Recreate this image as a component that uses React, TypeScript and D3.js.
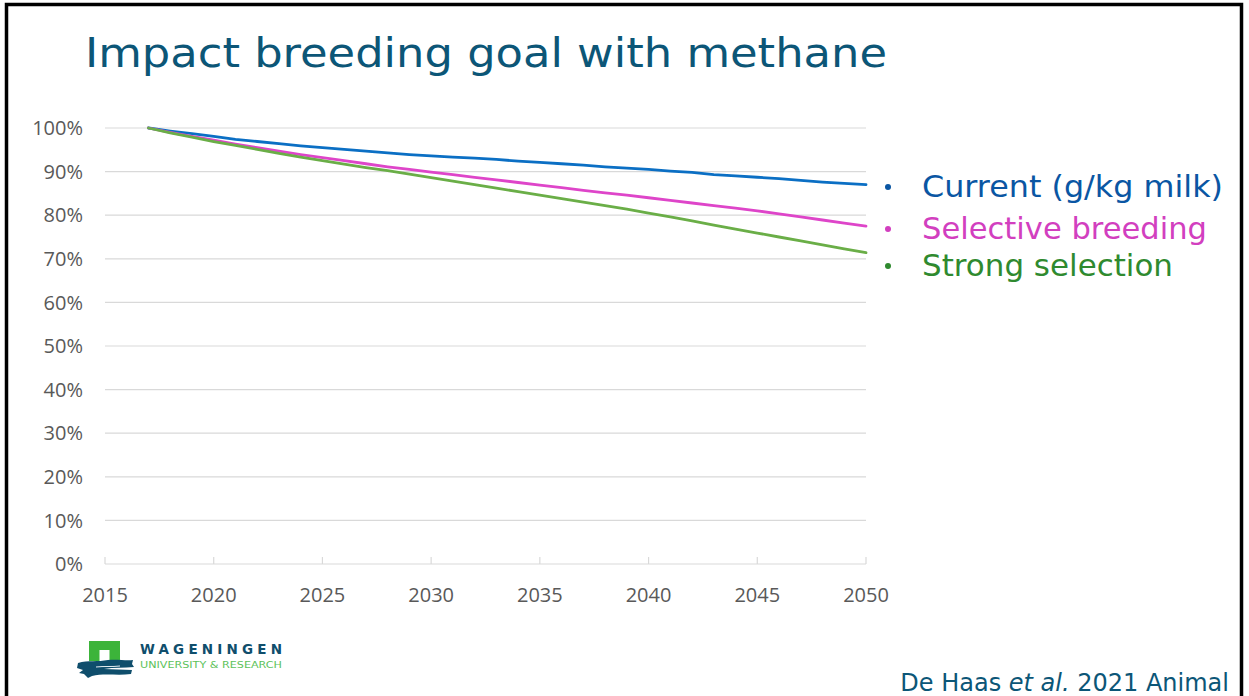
import React from "react";
import * as d3 from "d3";

const years: number[] = d3.range(2017, 2051);

// Methane emission relative to 2017 (%)
const currentGoal: number[] = [
  100.0, 99.3, 98.7, 98.1, 97.4, 96.9, 96.4, 95.9, 95.5, 95.1, 94.7, 94.3, 93.9, 93.6, 93.3, 93.1, 92.8,
  92.4, 92.1, 91.8, 91.5, 91.1, 90.8, 90.5, 90.1, 89.8, 89.3, 89.0, 88.7, 88.4, 88.0, 87.6, 87.3, 87.0,
];
const selectiveBreeding: number[] = [
  100.0, 99.0, 98.1, 97.2, 96.3, 95.5, 94.7, 93.9, 93.2, 92.5, 91.8, 91.1, 90.5, 89.9, 89.3, 88.7, 88.1,
  87.5, 86.9, 86.3, 85.7, 85.1, 84.6, 84.0, 83.4, 82.8, 82.2, 81.6, 81.0, 80.3, 79.6, 78.9, 78.2, 77.5,
];
const strongSelection: number[] = [
  100.0, 98.9, 97.9, 96.9, 96.0, 95.1, 94.2, 93.3, 92.5, 91.7, 90.9, 90.2, 89.4, 88.6, 87.8, 87.0, 86.2,
  85.4, 84.6, 83.8, 83.0, 82.2, 81.4, 80.5, 79.6, 78.7, 77.7, 76.8, 75.9, 75.0, 74.1, 73.2, 72.3, 71.4,
];

const xTicks: number[] = [2015, 2020, 2025, 2030, 2035, 2040, 2045, 2050];
const yTicks: number[] = [0, 10, 20, 30, 40, 50, 60, 70, 80, 90, 100];

const seriesNames: string[] = ["Current (g/kg milk)", "Selective breeding", "Strong selection"];
const seriesValues: number[][] = [currentGoal, selectiveBreeding, strongSelection];
const lineColors: string[] = ["#0b6fc4", "#de45c9", "#6aae47"];
const labelColors: string[] = ["#0a56a3", "#d23fbf", "#2f8a2f"];

const W = 1249;
const H = 696;

export default function App() {
  const x = d3.scaleLinear().domain([2015, 2050]).range([105, 866]);
  const y = d3.scaleLinear().domain([0, 100]).range([564, 128]);

  const line = d3
    .line<[number, number]>()
    .x((d) => x(d[0]))
    .y((d) => y(d[1]));

  const axisFont = "'Open Sans', sans-serif";
  const verdanaLike = "'DejaVu Sans', Verdana, sans-serif";

  const legendY = [197, 239, 276];
  const legendWidths = [301, 285, 251];

  return (
    <svg
      width={W}
      height={H}
      viewBox={`0 0 ${W} ${H}`}
      style={{ position: "absolute", left: 0, top: 0, background: "#fff" }}
    >
      <rect x={0} y={0} width={W} height={H} fill="#fff" />
      {/* slide frame */}
      <path d={`M6.5,${H + 5} V4.5 H1241.5 V${H + 5}`} fill="none" stroke="#000" strokeWidth={3.5} />

      {/* title */}
      <text
        x={85}
        y={67}
        fontFamily={verdanaLike}
        fontSize={41}
        fill="#0c5677"
        textLength={802}
        lengthAdjust="spacingAndGlyphs"
      >
        Impact breeding goal with methane
      </text>

      {/* gridlines */}
      {yTicks.map((t) => (
        <line key={`g${t}`} x1={105} x2={866} y1={y(t)} y2={y(t)} stroke="#d9d9d9" strokeWidth={1.2} />
      ))}
      {/* x axis ticks */}
      {xTicks.map((t) => (
        <line key={`t${t}`} x1={x(t)} x2={x(t)} y1={557} y2={564} stroke="#d9d9d9" strokeWidth={1.2} />
      ))}

      {/* y labels */}
      {yTicks.map((t) => (
        <text
          key={`yl${t}`}
          x={83}
          y={y(t)}
          dy="0.36em"
          textAnchor="end"
          fontFamily={axisFont}
          fontSize={20}
          fill="#595959"
        >
          {`${t}%`}
        </text>
      ))}
      {/* x labels */}
      {xTicks.map((t) => (
        <text
          key={`xl${t}`}
          x={x(t)}
          y={602}
          textAnchor="middle"
          fontFamily={axisFont}
          fontSize={20}
          fill="#595959"
        >
          {t}
        </text>
      ))}

      {/* series */}
      {seriesValues.map((vals, i) => (
        <path
          key={`s${i}`}
          d={line(years.map((yr, j) => [yr, vals[j]] as [number, number])) || ""}
          fill="none"
          stroke={lineColors[i]}
          strokeWidth={2.8}
          strokeLinejoin="round"
          strokeLinecap="round"
        />
      ))}

      {/* legend */}
      {seriesNames.map((name, i) => (
        <g key={`lg${i}`}>
          <circle cx={888} cy={legendY[i] - 10} r={3} fill={labelColors[i]} />
          <text
            x={922}
            y={legendY[i]}
            fontFamily={verdanaLike}
            fontSize={30}
            fill={labelColors[i]}
            textLength={legendWidths[i]}
            lengthAdjust="spacingAndGlyphs"
          >
            {name}
          </text>
        </g>
      ))}

      {/* WUR logo */}
      <g>
        <path d="M89,641 H120 V661 H109.5 V650 H99.5 V661 H89 Z" fill="#3cb43a" />
        <path
          d="M78,663 C88,660 98,662 108,660 C118,659 126,661 133,660 L132,664 L134,667 C124,668 114,667 104,669 L132,670 L131,674 C118,676 104,673 92,676 L88,678 L84,674 L79,673 L83,670 L77,668 Z"
          fill="#0f4e6c"
        />
        <path d="M96,667 C104,666 112,667 120,666" stroke="#fff" strokeWidth={0.9} fill="none" />
        <text
          x={140}
          y={654}
          fontFamily="'DejaVu Sans', sans-serif"
          fontWeight={600}
          fontSize={13.5}
          fill="#0f4e6c"
          textLength={142}
          lengthAdjust="spacing"
        >
          WAGENINGEN
        </text>
        <text
          x={140}
          y={667.5}
          fontFamily="'DejaVu Sans', sans-serif"
          fontSize={8.2}
          fill="#5cc25a"
          textLength={142}
          lengthAdjust="spacingAndGlyphs"
        >
          UNIVERSITY &amp; RESEARCH
        </text>
      </g>

      {/* source */}
      <text x={1229} y={691} textAnchor="end" fontFamily={verdanaLike} fontSize={24} fill="#0c5677">
        De Haas <tspan fontStyle="italic">et al.</tspan> 2021 Animal
      </text>
    </svg>
  );
}
